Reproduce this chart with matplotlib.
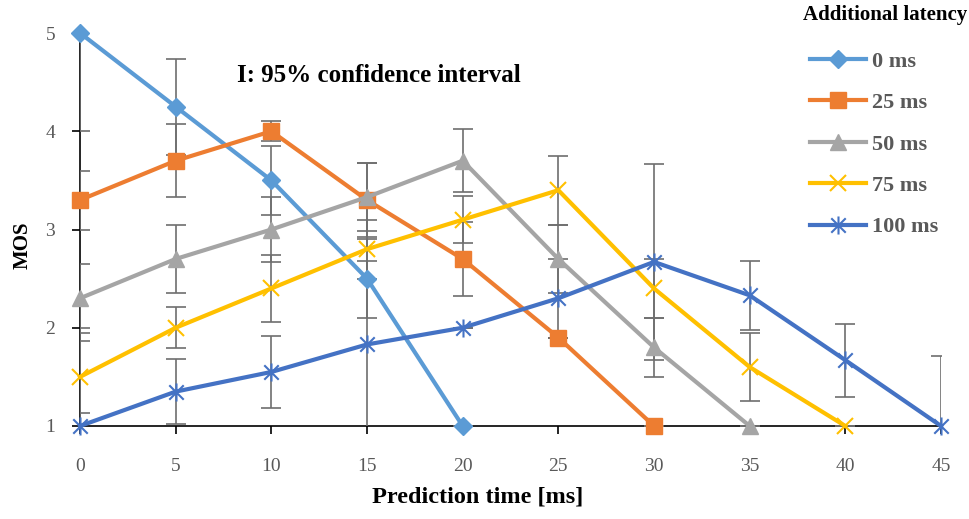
import numpy as np
import matplotlib
matplotlib.use("Agg")
import matplotlib.pyplot as plt
from matplotlib.path import Path

# ---------------- Data ----------------
pred_time = [0, 5, 10, 15, 20, 25, 30, 35, 40, 45]
labels = ["0 ms", "25 ms", "50 ms", "75 ms", "100 ms"]

mos_0 = [5.0, 4.25, 3.5, 2.5, 1.0]
mos_25 = [3.3, 3.7, 4.0, 3.3, 2.7, 1.9, 1.0]
mos_50 = [2.3, 2.7, 3.0, 3.33, 3.7, 2.7, 1.8, 1.0]
mos_75 = [1.5, 2.0, 2.4, 2.8, 3.1, 3.4, 2.4, 1.6, 1.0]
mos_100 = [1.0, 1.35, 1.55, 1.83, 2.0, 2.3, 2.67, 2.33, 1.67, 1.0]

# half-width of the 95% confidence interval
ci_0 = [1.0, 0.49, 0.35, 0.4, 0.0]
ci_25 = [0.3, 0.37, 0.1, 0.38, 0.38, 0.0, 0.0]
ci_50 = [0.35, 0.35, 0.33, 0.35, 0.32, 0.35, 0.3, 0.0]
ci_75 = [0.37, 0.21, 0.34, 0.3, 0.24, 0.35, 0.3, 0.35, 0.0]
ci_100 = [1.0, 0.33, 0.37, 0.85, 0.0, 0.4, 1.0, 0.35, 0.37, 0.71]

colors = ["#5B9BD5", "#ED7D31", "#A5A5A5", "#FFC000", "#4472C4"]

# Excel-style star marker: X with a vertical stroke
star = Path([(0, -1), (0, 1), (-0.8, -0.8), (0.8, 0.8), (-0.8, 0.8), (0.8, -0.8)],
            [Path.MOVETO, Path.LINETO, Path.MOVETO, Path.LINETO, Path.MOVETO, Path.LINETO])
markers = ["D", "s", "^", "x", star]
msizes = [9, 11.5, 11.5, 12, 13]

series = [mos_0, mos_25, mos_50, mos_75, mos_100]
cis = [ci_0, ci_25, ci_50, ci_75, ci_100]

plt.rcParams["font.family"] = ["Liberation Serif", "DejaVu Serif"]

fig = plt.figure(figsize=(9.7, 5.19), dpi=100)
ax = fig.add_axes([0.0825, 0.1792, 0.8876, 0.7572])

for y, err, c, m, ms, lab in zip(series, cis, colors, markers, msizes, labels):
    x = pred_time[:len(y)]
    ax.errorbar(x, y, yerr=err, fmt="none", ecolor="#6E6E6E", elinewidth=1.2,
                capsize=7, capthick=1.2, zorder=2)
    mew = 1.5 if (m == "x" or m is star) else 1
    ax.plot(x, y, color=c, lw=3, marker=m, ms=ms, mfc=c, mec=c, mew=mew,
            label=lab, clip_on=False, zorder=3)

ax.set_xlim(0, 45)
ax.set_ylim(1, 5)
ax.set_xticks(pred_time)
ax.set_yticks([1, 2, 3, 4, 5])
for s in ["top", "right"]:
    ax.spines[s].set_visible(False)
for s in ["left", "bottom"]:
    ax.spines[s].set_color("black")
    ax.spines[s].set_linewidth(1.2)
    ax.spines[s].set_zorder(1)
ax.tick_params(axis="x", direction="out", length=6, width=1.2, pad=17,
               labelsize=14, labelcolor="#595959")
ax.tick_params(axis="y", direction="out", length=6, width=1.2, pad=12,
               labelsize=14, labelcolor="#595959")

ax.set_xlabel("Prediction time [ms]", fontsize=17.5, fontweight="bold")
ax.xaxis.set_label_coords(0.462, -0.181)
ax.xaxis.label.set_va("center")
ax.set_ylabel("MOS", fontsize=15, fontweight="bold")
ax.yaxis.set_label_coords(-0.067, 0.46)
ax.yaxis.label.set_va("center")

ax.text(0.182, 0.893, "I: 95% confidence interval", transform=ax.transAxes,
        fontsize=18, fontweight="bold", ha="left", va="center")

# legend title placed on its own, entries below it
ax.text(0.935, 1.047, "Additional latency", transform=ax.transAxes,
        fontsize=15, fontweight="bold", ha="center", va="center")
leg = ax.legend(loc="upper left", bbox_to_anchor=(0.848, 0.954), frameon=False,
                fontsize=16, handlelength=2.52, labelspacing=0.94,
                handletextpad=0.27, borderaxespad=0, borderpad=0)
for t in leg.get_texts():
    t.set_color("#595959")
    t.set_fontweight("bold")

fig.savefig("out.png", dpi=100)
